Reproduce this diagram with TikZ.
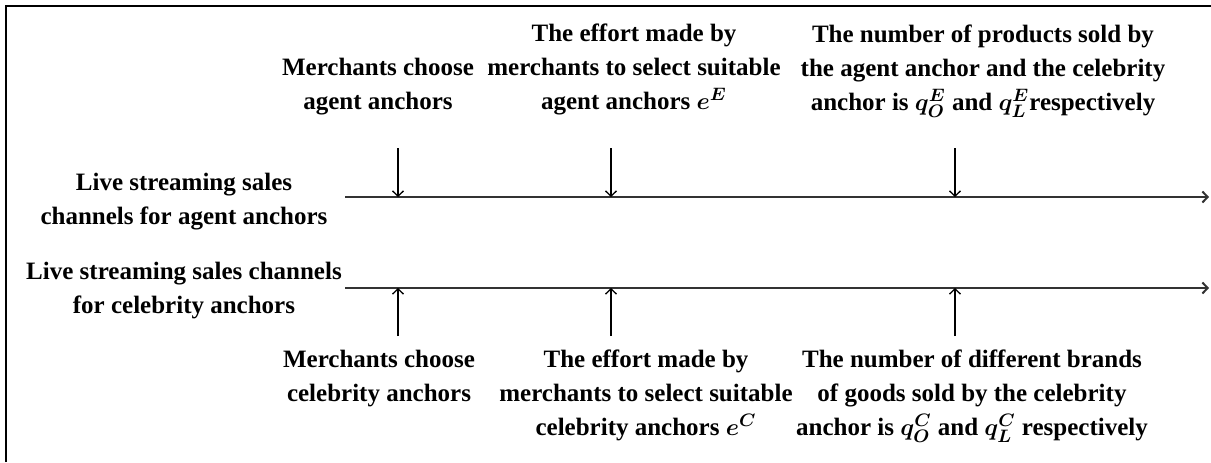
\documentclass[tikz,border=0pt]{standalone}
\usepackage{amsmath}
\usepackage{fontspec}
\setmainfont{Liberation Serif}
\usepackage{tikz}
\usetikzlibrary{arrows.meta}

\begin{document}
\begin{tikzpicture}[
    x=0.5pt,y=-0.5pt,
    >={Straight Barb[length=2.6pt,width=5.5pt]},
    txt/.style={align=center,anchor=base,inner sep=0pt,
        font=\fontsize{12.5}{17}\selectfont\bfseries\boldmath},
    axis/.style={->,line width=1pt,draw=black!80},
    tick/.style={->,line width=0.65pt},
]
    \useasboundingbox (0,0) rectangle (1211,462);
    \draw[line width=1pt] (6,462) -- (6,6) -- (1211,6);
    % time lines
    \coordinate (agentS) at (345,197);
    \coordinate (agentE) at (1209,197);
    \coordinate (celebS) at (345,288);
    \coordinate (celebE) at (1209,288);
    \draw[axis] (agentS) -- (agentE);
    \draw[axis] (celebS) -- (celebE);
    \node (agentLbl) at (184,224) [txt] {Live streaming sales\\channels for agent anchors};
    \node (celebLbl) at (184,313) [txt] {Live streaming sales channels\\for celebrity anchors};
    % agent anchors (top)
    \node (chooseE) at (378,109) [txt] {Merchants choose\\agent anchors};
    \node (effortE) at (634,109) [txt] {The effort made by\\merchants to select suitable\\agent anchors $e^E$};
    \node (soldE) at (983,110) [txt] {The number of products sold by\\the agent anchor and the celebrity\\anchor is $q_O^E$ and $q_L^E$respectively};
    \coordinate (t1) at (398,148);
    \coordinate (t2) at (611,148);
    \coordinate (t3) at (955,148);
    \draw[tick] (t1) -- (t1 |- agentS);
    \draw[tick] (t2) -- (t2 |- agentS);
    \draw[tick] (t3) -- (t3 |- agentS);
    % celebrity anchors (bottom)
    \node (chooseC) at (379,401) [txt] {Merchants choose\\celebrity anchors};
    \node (effortC) at (646,435) [txt] {The effort made by\\merchants to select suitable\\celebrity anchors $e^C$};
    \node (soldC) at (972,435) [txt] {The number of different brands\\of goods sold by the celebrity\\anchor is $q_O^C$ and $q_L^C$ respectively};
    \coordinate (b1) at (398,336);
    \coordinate (b2) at (611,336);
    \coordinate (b3) at (955,336);
    \draw[tick] (b1) -- (b1 |- celebS);
    \draw[tick] (b2) -- (b2 |- celebS);
    \draw[tick] (b3) -- (b3 |- celebS);
\end{tikzpicture}
\end{document}
